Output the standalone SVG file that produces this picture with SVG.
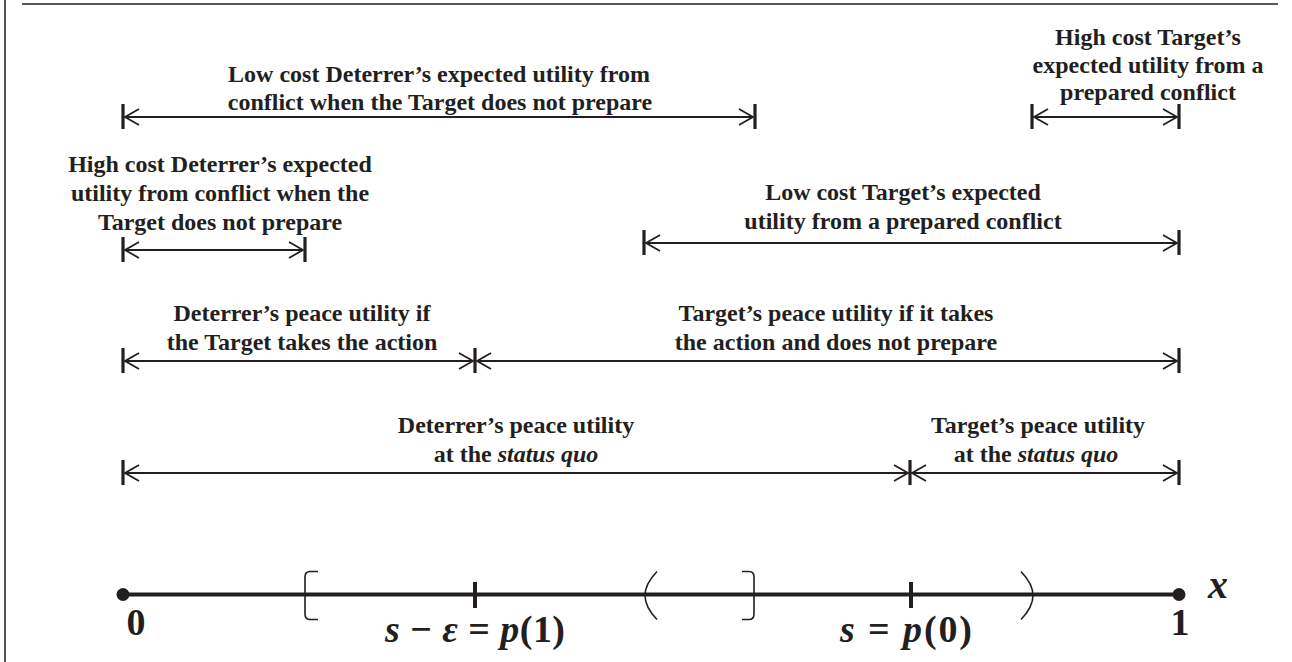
<svg xmlns="http://www.w3.org/2000/svg" width="1292" height="662" viewBox="0 0 1292 662">
<defs>
<style>
.lbl{font-family:"Liberation Serif","Times New Roman",serif;font-weight:bold;font-size:24px;fill:#231f20;text-anchor:middle}
.ax{font-family:"Liberation Serif","Times New Roman",serif;font-weight:bold;fill:#231f20}
.arr{stroke:#231f20;stroke-width:1.8;fill:none;marker-start:url(#hd);marker-end:url(#hd)}
.bar{stroke:#231f20;stroke-width:3.2}
.brk{stroke:#231f20;stroke-width:1.6;fill:none}
</style>
<marker id="hd" markerUnits="userSpaceOnUse" markerWidth="20" markerHeight="20" viewBox="-16 -10 20 20" refX="0" refY="0" orient="auto-start-reverse" overflow="visible">
<path d="M-14,-8 L0,0 L-14,8" fill="none" stroke="#231f20" stroke-width="1.8"/>
</marker>
</defs>
<rect width="1292" height="662" fill="#ffffff"/>
<g id="frame">
<line x1="22" y1="4" x2="1278" y2="4" stroke="#231f20" stroke-width="1.6"/>
<line x1="5" y1="0" x2="5" y2="662" stroke="#555555" stroke-width="2"/>
</g>
<g id="connectors">
<line class="arr" x1="125" y1="117" x2="753" y2="117"/>
<line class="arr" x1="1034" y1="117" x2="1177" y2="117"/>
<line class="arr" x1="125" y1="250" x2="303" y2="250"/>
<line class="arr" x1="646" y1="243" x2="1177" y2="243"/>
<line class="arr" x1="125" y1="361" x2="473" y2="361"/>
<line class="arr" x1="477" y1="361" x2="1177" y2="361"/>
<line class="arr" x1="125" y1="473" x2="908" y2="473"/>
<line class="arr" x1="912" y1="473" x2="1177" y2="473"/>
<g class="bar">
<line x1="123" y1="104" x2="123" y2="129"/>
<line x1="755" y1="104" x2="755" y2="129"/>
<line x1="1032" y1="104" x2="1032" y2="129"/>
<line x1="1179" y1="104" x2="1179" y2="129"/>
<line x1="123" y1="237" x2="123" y2="262"/>
<line x1="305" y1="237" x2="305" y2="262"/>
<line x1="644" y1="230" x2="644" y2="255"/>
<line x1="1179" y1="230" x2="1179" y2="255"/>
<line x1="123" y1="348" x2="123" y2="373"/>
<line x1="475" y1="348" x2="475" y2="373"/>
<line x1="1179" y1="348" x2="1179" y2="373"/>
<line x1="123" y1="460" x2="123" y2="485"/>
<line x1="910" y1="460" x2="910" y2="485"/>
<line x1="1179" y1="460" x2="1179" y2="485"/>
</g>
</g>
<g id="n-lowcost-deterrer">
<text class="lbl" x="439" y="82">Low cost Deterrer’s expected utility from</text>
<text class="lbl" x="440" y="110">conflict when the Target does not prepare</text>
</g>
<g id="n-highcost-target">
<text class="lbl" x="1148" y="45">High cost Target’s</text>
<text class="lbl" x="1148" y="73">expected utility from a</text>
<text class="lbl" x="1148" y="100">prepared conflict</text>
</g>
<g id="n-highcost-deterrer">
<text class="lbl" x="220" y="172">High cost Deterrer’s expected</text>
<text class="lbl" x="220" y="201">utility from conflict when the</text>
<text class="lbl" x="220" y="230">Target does not prepare</text>
</g>
<g id="n-lowcost-target">
<text class="lbl" x="903" y="200">Low cost Target’s expected</text>
<text class="lbl" x="903" y="229">utility from a prepared conflict</text>
</g>
<g id="n-deterrer-peace-action">
<text class="lbl" x="302" y="321">Deterrer’s peace utility if</text>
<text class="lbl" x="302" y="350">the Target takes the action</text>
</g>
<g id="n-target-peace-action">
<text class="lbl" x="836" y="321">Target’s peace utility if it takes</text>
<text class="lbl" x="836" y="350">the action and does not prepare</text>
</g>
<g id="n-deterrer-peace-sq">
<text class="lbl" x="516" y="433">Deterrer’s peace utility</text>
<text class="lbl" x="516" y="462">at the <tspan font-style="italic">status quo</tspan></text>
</g>
<g id="n-target-peace-sq">
<text class="lbl" x="1038" y="433">Target’s peace utility</text>
<text class="lbl" x="1036" y="462">at the <tspan font-style="italic">status quo</tspan></text>
</g>
<g id="axis">
<line x1="123" y1="594.5" x2="1179" y2="594.5" stroke="#231f20" stroke-width="4"/>
<circle cx="123" cy="594.5" r="6.5" fill="#231f20"/>
<circle cx="1179" cy="594.5" r="6.5" fill="#231f20"/>
<line x1="475" y1="582" x2="475" y2="608" stroke="#231f20" stroke-width="4"/>
<line x1="911" y1="582" x2="911" y2="608" stroke="#231f20" stroke-width="4"/>
<path class="brk" d="M318,571.5 L310,571.5 Q305,571.5 305,577 L305,614 Q305,619.5 310,619.5 L318,619.5"/>
<path class="brk" d="M657,571.5 Q645,584 645,595.5 Q645,607 657,619.5"/>
<path class="brk" d="M742,571.5 L749,571.5 Q754,571.5 754,577 L754,614 Q754,619.5 749,619.5 L742,619.5"/>
<path class="brk" d="M1021,571.5 Q1033,584 1033,595.5 Q1033,607 1021,619.5"/>
<text class="ax" x="136" y="635" font-size="38" text-anchor="middle">0</text>
<text class="ax" x="1180" y="635" font-size="38" text-anchor="middle">1</text>
<text class="ax" x="1218" y="598" font-size="40" font-style="italic" text-anchor="middle">x</text>
<text class="ax" x="385" y="642" font-size="38" textLength="180" lengthAdjust="spacing"><tspan font-style="italic">s</tspan> − <tspan font-style="italic">ε</tspan> = <tspan font-style="italic">p</tspan>(1)</text>
<text class="ax" x="840" y="642" font-size="38" textLength="132" lengthAdjust="spacing"><tspan font-style="italic">s</tspan> = <tspan font-style="italic">p</tspan>(0)</text>
</g>
</svg>
